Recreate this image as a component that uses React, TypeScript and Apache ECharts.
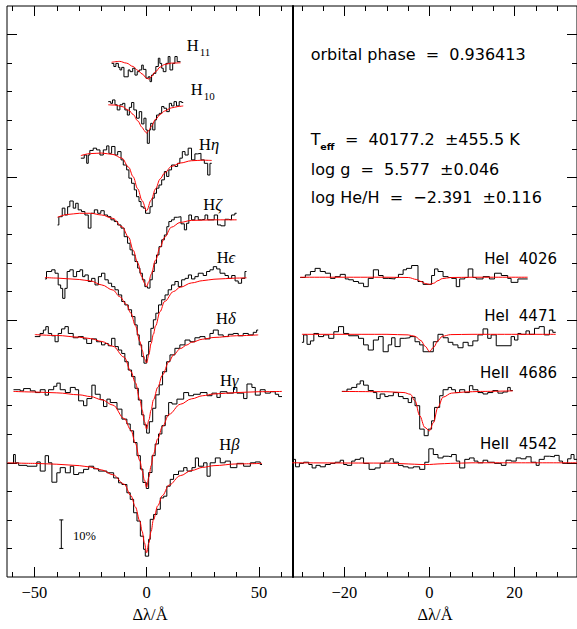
import React, { useEffect, useRef } from 'react';
import * as echarts from 'echarts';

type P = [number, number];

// ---------- axis ranges & ticks ----------
const X_LEFT: P = [-62.2, 65.2];
const X_RIGHT: P = [-32.1, 34.7];
const Y_RANGE: P = [0.6, 2.6];
const leftMinorTicks = [-60, -40, -30, -20, -10, 10, 20, 30, 40, 60];
const leftMajorTicks = [-50, 0, 50];
const rightMinorTicks = [-30, -25, -15, -10, -5, 5, 10, 15, 25, 30];
const rightMajorTicks = [-20, 0, 20];
const yMinorTicks = [0.7, 0.8, 0.9, 1.1, 1.2, 1.3, 1.4, 1.6, 1.7, 1.8, 1.9, 2.1, 2.2, 2.3, 2.4];
const yMajorTicks = [1.0, 1.5, 2.0, 2.5];

// ---------- Balmer lines (left panel) ----------
const balmerNames = ['Hβ', 'Hγ', 'Hδ', 'Hϵ', 'Hζ', 'Hη', 'H10', 'H11'];
const balmerOffsets = [0, 0.25, 0.45, 0.65, 0.85, 1.05, 1.25, 1.4];

const hBetaObs: P[] = [[-62.0,0.998],[-59.3,1.029],[-58.5,1.0],[-57.0,0.991],[-53.3,0.988],[-48.9,1.003],[-47.4,0.971],[-45.2,1.025],[-43.7,1.0],[-42.2,0.932],[-40.0,0.965],[-38.5,0.983],[-36.2,0.965],[-34.0,0.988],[-32.5,0.959],[-30.3,0.965],[-28.1,0.977],[-25.8,0.988],[-23.6,0.979],[-21.4,0.971],[-17.7,0.965],[-14.7,0.947],[-12.5,0.930],[-11.0,0.924],[-8.8,0.895],[-7.3,0.872],[-5.8,0.825],[-4.3,0.796],[-2.8,0.743],[-1.35,0.697],[-0.6,0.673],[0.9,0.732],[1.6,0.802],[3.1,0.819],[4.6,0.837],[6.1,0.877],[7.6,0.883],[9.0,0.918],[10.5,0.942],[12.0,0.959],[14.2,0.971],[16.5,0.983],[18.0,0.971],[20.2,0.983],[21.7,1.017],[23.1,0.988],[25.4,1.0],[26.9,0.953],[28.3,1.0],[30.6,1.017],[32.8,1.0],[35.0,1.006],[37.3,0.983],[40.2,0.998],[43.2,0.988],[46.2,1.0],[48.4,1.003],[50.6,0.994],[51.4,0.994]];
const hBetaFit: P[] = [[-62,1.0],[-50,0.998],[-40,0.995],[-30,0.99],[-25,0.985],[-20,0.975],[-15,0.958],[-10,0.925],[-7,0.885],[-5,0.845],[-3,0.795],[-2,0.76],[-1,0.72],[0,0.685],[1,0.72],[2,0.76],[3,0.8],[5,0.85],[7,0.885],[10,0.922],[15,0.955],[20,0.973],[25,0.984],[30,0.99],[40,0.996],[51.4,0.998]];

const hGammaObs: P[] = [[-59.3,1.006],[-56.3,1.002],[-54.8,1.010],[-51.8,1.002],[-49.6,0.996],[-47.4,1.006],[-45.2,0.987],[-43.7,1.006],[-41.4,1.018],[-40.0,1.029],[-38.5,1.006],[-36.2,0.996],[-34.0,1.014],[-31.8,1.006],[-30.3,0.967],[-28.1,0.950],[-26.6,0.975],[-24.4,1.022],[-22.9,0.990],[-20.7,0.971],[-19.2,0.947],[-17.7,0.973],[-16.2,0.961],[-13.2,0.938],[-11.0,0.903],[-8.8,0.886],[-7.3,0.862],[-5.8,0.821],[-4.3,0.775],[-2.8,0.728],[-1.65,0.681],[-0.15,0.660],[0.9,0.716],[2.4,0.775],[3.8,0.816],[5.3,0.851],[6.8,0.880],[8.3,0.915],[9.8,0.961],[11.3,0.956],[13.5,0.973],[16.5,0.996],[18.7,0.985],[20.9,0.990],[23.9,0.996],[26.9,0.985],[29.1,0.994],[31.3,0.979],[32.8,0.999],[35.8,0.994],[38.7,1.014],[40.2,0.994],[43.2,0.975],[44.7,1.026],[46.9,1.014],[48.4,0.987],[50.6,1.006],[52.8,0.994],[55.1,0.999],[57.3,0.990],[58.8,0.982],[60.3,0.982]];
const hGammaFit: P[] = [[-59.3,1.0],[-50,0.998],[-40,0.995],[-30,0.988],[-25,0.982],[-20,0.971],[-15,0.952],[-10,0.905],[-7,0.865],[-5,0.818],[-3,0.757],[-2,0.722],[-1,0.69],[0,0.664],[1,0.7],[2,0.74],[3,0.78],[5,0.835],[7,0.876],[10,0.92],[15,0.955],[20,0.974],[25,0.985],[30,0.991],[40,0.996],[50,0.999],[60.3,1.0]];

const hDeltaObs: P[] = [[-49.8,0.992],[-47.5,1.003],[-46.0,1.015],[-44.9,1.027],[-43.8,1.003],[-42.3,0.995],[-40.8,0.974],[-39.4,1.003],[-37.9,1.019],[-36.4,1.027],[-34.9,1.003],[-32.7,0.988],[-30.5,0.992],[-28.2,0.984],[-26.7,0.968],[-24.5,0.984],[-22.3,0.974],[-20.1,0.963],[-18.6,0.968],[-17.1,0.960],[-15.6,0.986],[-14.1,0.957],[-12.6,0.945],[-11.1,0.933],[-9.7,0.904],[-8.2,0.875],[-6.7,0.852],[-5.2,0.811],[-3.7,0.770],[-2.2,0.718],[-1.2,0.683],[0.0,0.654],[1.2,0.694],[2.7,0.741],[4.1,0.788],[5.6,0.823],[7.1,0.869],[8.9,0.904],[10.4,0.928],[12.6,0.951],[14.8,0.963],[17.1,0.980],[19.3,0.974],[21.5,0.988],[23.7,0.992],[26.0,0.984],[28.2,1.003],[29.7,1.015],[31.9,0.998],[34.1,0.992],[36.4,1.0],[38.6,1.003],[40.8,0.995],[43.0,1.003],[45.3,0.998],[47.5,1.007],[49.0,1.015],[49.7,1.015]];
const hDeltaFit: P[] = [[-49.8,0.999],[-40,0.996],[-30,0.99],[-25,0.985],[-20,0.975],[-15,0.958],[-10,0.92],[-7,0.87],[-5,0.83],[-3,0.77],[-2,0.735],[-1,0.695],[0,0.668],[1,0.7],[2,0.735],[3,0.77],[5,0.815],[7,0.857],[10,0.905],[12,0.928],[15,0.95],[18,0.963],[20,0.972],[25,0.983],[30,0.989],[40,0.995],[49.7,0.998]];

const hEpsObs: P[] = [[-45.3,0.994],[-44.6,1.020],[-42.3,1.026],[-40.8,1.014],[-39.4,0.973],[-38.3,0.961],[-37.4,0.926],[-36.4,0.961],[-35.4,1.020],[-34.2,1.026],[-32.7,1.002],[-31.2,1.020],[-29.7,1.026],[-28.5,1.002],[-27.5,1.008],[-26.0,0.985],[-24.5,0.996],[-23.0,0.973],[-21.5,1.002],[-20.1,1.014],[-18.6,0.991],[-17.1,0.979],[-15.6,0.967],[-14.1,0.956],[-12.6,0.938],[-11.1,0.915],[-9.7,0.903],[-8.2,0.886],[-6.7,0.862],[-5.2,0.833],[-4.2,0.798],[-3.3,0.763],[-2.2,0.722],[-1.2,0.699],[0.0,0.728],[0.9,0.775],[1.9,0.821],[3.0,0.851],[4.1,0.874],[5.3,0.903],[6.7,0.921],[8.2,0.938],[9.6,0.956],[11.1,0.973],[12.6,0.985],[14.1,0.967],[15.6,0.991],[17.1,0.996],[18.6,1.008],[20.0,0.994],[21.5,1.002],[23.0,1.014],[25.2,1.006],[26.7,1.020],[28.2,1.026],[29.7,1.037],[31.2,1.029],[32.7,1.014],[34.9,1.006],[36.4,0.996],[37.9,1.006],[39.4,0.987],[40.8,0.979],[42.3,0.996],[43.8,1.020],[44.5,1.020]];
const hEpsFit: P[] = [[-45.3,0.999],[-40,0.997],[-30,0.992],[-25,0.987],[-20,0.973],[-15,0.955],[-12,0.932],[-9,0.905],[-7,0.874],[-5,0.83],[-3,0.775],[-2,0.745],[-1,0.715],[0,0.7],[1,0.73],[2,0.768],[3,0.8],[4,0.83],[6,0.88],[8,0.915],[12,0.95],[15,0.965],[20,0.98],[25,0.988],[30,0.993],[40,0.997],[44.5,0.998]];

const hZetaObs: P[] = [[-39.7,0.983],[-39.1,1.012],[-37.6,1.042],[-36.4,1.018],[-35.2,1.047],[-34.2,1.067],[-32.7,1.042],[-31.6,1.059],[-30.5,1.036],[-29.0,1.030],[-27.5,1.018],[-26.0,0.972],[-24.8,1.024],[-23.3,1.036],[-21.8,1.024],[-20.4,1.033],[-18.9,1.018],[-17.4,1.012],[-15.9,1.001],[-14.4,0.995],[-12.9,0.983],[-11.4,0.972],[-10.0,0.942],[-8.5,0.919],[-7.4,0.896],[-6.4,0.878],[-5.2,0.855],[-4.0,0.832],[-3.0,0.814],[-1.9,0.791],[-0.8,0.767],[0.4,0.762],[1.5,0.791],[2.5,0.820],[3.4,0.849],[4.4,0.878],[5.5,0.907],[6.7,0.931],[7.9,0.948],[9.0,0.977],[9.9,0.995],[11.1,1.001],[12.3,1.010],[13.8,1.012],[15.3,0.987],[16.8,0.966],[17.8,0.989],[18.8,1.018],[20.0,1.001],[21.5,1.012],[23.0,1.001],[24.5,1.003],[26.0,1.018],[27.2,1.001],[28.6,1.001],[30.1,1.018],[31.6,0.983],[33.1,0.980],[34.9,1.003],[36.4,1.001],[37.8,1.018],[39.3,1.024],[40.1,1.024]];
const hZetaFit: P[] = [[-39.7,1.01],[-35,1.02],[-30,1.024],[-25,1.024],[-20,1.018],[-15,1.006],[-11,0.977],[-8,0.94],[-6,0.895],[-4,0.85],[-2,0.8],[-1,0.78],[0,0.767],[1,0.785],[2,0.81],[4,0.86],[6,0.905],[8,0.94],[11,0.975],[15,0.992],[20,0.999],[30,1.001],[40.1,1.001]];

const hEtaObs: P[] = [[-29.3,1.017],[-27.8,1.028],[-26.7,0.999],[-26.0,1.028],[-25.3,1.044],[-23.8,1.052],[-22.3,1.046],[-20.8,1.028],[-19.3,1.046],[-17.8,1.060],[-16.8,1.034],[-15.6,1.058],[-14.1,1.028],[-12.9,1.040],[-11.4,1.011],[-10.4,0.993],[-8.9,0.976],[-7.9,0.947],[-6.7,0.929],[-5.5,0.906],[-4.5,0.882],[-3.4,0.865],[-2.5,0.847],[-1.5,0.842],[-0.5,0.824],[1.5,0.847],[2.5,0.877],[3.4,0.894],[4.4,0.912],[5.5,0.923],[6.7,0.941],[7.9,0.970],[8.9,0.953],[9.9,0.976],[11.1,0.993],[12.6,0.988],[13.8,0.999],[14.8,1.017],[15.9,1.040],[17.1,1.028],[18.5,1.052],[20.0,1.011],[21.5,1.032],[22.7,1.034],[24.2,1.011],[25.7,0.999],[27.2,0.958],[28.2,0.999],[29.0,0.999]];
const hEtaFit: P[] = [[-29.3,1.026],[-25,1.033],[-20,1.035],[-15,1.03],[-11,1.017],[-8,0.985],[-6,0.952],[-4,0.91],[-2,0.868],[0,0.833],[2,0.87],[4,0.91],[6,0.944],[8,0.965],[11,0.988],[15,1.0],[20,1.008],[25,1.01],[29,1.009]];

const h10Obs: P[] = [[-17.1,1.015],[-16.0,1.009],[-15.2,1.021],[-14.1,1.004],[-13.1,0.986],[-11.9,1.004],[-10.7,1.009],[-9.7,0.986],[-8.6,0.968],[-7.7,0.995],[-6.7,1.012],[-5.7,0.986],[-4.5,0.957],[-3.3,0.980],[-2.2,0.937],[-1.2,0.957],[-0.3,0.916],[0.3,0.869],[1.2,0.916],[1.8,0.939],[2.7,0.916],[3.7,0.951],[4.4,0.968],[5.6,0.974],[6.7,0.998],[7.7,0.992],[8.9,0.980],[10.1,1.009],[11.1,1.0],[12.2,1.015],[13.3,1.0],[14.5,1.015],[15.6,1.012],[16.3,1.012]];
const h10Fit: P[] = [[-17.1,1.004],[-14,1.003],[-11,0.998],[-8,0.985],[-6,0.97],[-4,0.948],[-2,0.925],[-1,0.913],[0,0.905],[1,0.915],[2,0.928],[4,0.953],[6,0.97],[8,0.982],[11,0.993],[14,0.998],[16.3,1.0]];

const h11Obs: P[] = [[-15.6,0.999],[-14.6,0.988],[-13.7,0.999],[-12.6,0.985],[-11.9,0.976],[-11.1,0.985],[-10.1,0.952],[-8.2,0.976],[-7.4,0.970],[-6.2,0.982],[-5.2,0.958],[-4.2,0.970],[-3.3,0.976],[-2.2,0.993],[-1.5,0.978],[-0.3,0.947],[0.7,0.952],[1.5,0.935],[2.2,0.958],[3.0,0.964],[4.1,0.988],[5.2,1.017],[5.9,0.999],[6.7,0.982],[7.4,0.970],[8.6,0.999],[9.6,1.023],[10.4,0.976],[11.6,0.999],[12.6,1.023],[13.6,1.005],[15.1,1.005]];
const h11Fit: P[] = [[-15.6,1.003],[-12,1.006],[-9,1.0],[-6,0.988],[-4,0.975],[-2,0.962],[0,0.947],[1,0.944],[2,0.952],[4,0.97],[6,0.986],[8,0.995],[11,1.0],[15.1,1.001]];

const balmerObs = [hBetaObs, hGammaObs, hDeltaObs, hEpsObs, hZetaObs, hEtaObs, h10Obs, h11Obs];
const balmerFits = [hBetaFit, hGammaFit, hDeltaFit, hEpsFit, hZetaFit, hEtaFit, h10Fit, h11Fit];

// ---------- helium lines (right panel) ----------
const heNames = ['HeI  4026', 'HeI  4471', 'HeII  4686', 'HeII  4542'];
const heOffsets = [0.65, 0.45, 0.25, 0];

const he4026Obs: P[] = [[-30.4,0.999],[-29.2,1.008],[-28.0,1.020],[-26.9,1.031],[-25.7,1.020],[-24.5,1.014],[-23.3,0.996],[-22.2,1.002],[-21.0,1.010],[-19.8,0.994],[-19.0,0.991],[-17.9,0.985],[-16.7,0.979],[-15.5,0.967],[-14.4,0.996],[-13.2,1.026],[-12.0,1.006],[-10.9,0.996],[-9.7,0.994],[-8.1,0.999],[-7.3,1.010],[-6.2,1.026],[-5.4,1.031],[-4.2,1.041],[-2.7,0.985],[-1.5,0.975],[0.5,1.006],[1.2,1.029],[2.0,1.020],[3.2,1.002],[4.4,0.999],[5.2,0.996],[6.3,0.967],[7.1,0.994],[8.3,0.999],[9.1,1.029],[10.2,0.999],[11.0,0.994],[12.6,1.002],[14.1,0.994],[15.3,1.014],[16.9,1.006],[18.4,0.996],[19.2,0.982],[20.8,0.994],[23.1,0.994]];
const he4026Fit: P[] = [[-30.4,1.0],[-10,1.0],[-5,0.999],[-3,0.992],[-2,0.985],[-1,0.978],[0,0.975],[1,0.979],[2,0.988],[3,0.995],[5,0.999],[10,1.0],[23.1,1.0]];

const he4471Obs: P[] = [[-30.0,0.972],[-29.6,0.998],[-28.8,0.965],[-28.0,0.977],[-27.2,1.003],[-26.1,0.992],[-24.9,0.998],[-23.7,0.986],[-22.5,1.009],[-21.4,1.027],[-20.2,1.003],[-19.0,0.995],[-16.7,0.986],[-15.5,0.963],[-14.4,0.945],[-13.2,0.980],[-12.0,0.992],[-10.9,0.939],[-9.7,0.963],[-8.9,0.988],[-8.1,0.957],[-6.9,0.986],[-5.8,0.988],[-4.6,0.992],[-3.4,0.974],[-2.3,0.963],[-1.5,0.939],[0.9,0.974],[2.0,1.0],[3.2,0.988],[4.4,0.972],[5.5,0.963],[6.7,0.953],[7.9,0.972],[9.1,0.960],[10.2,0.977],[11.4,0.998],[12.6,1.019],[13.7,0.986],[14.5,0.998],[15.7,0.960],[19.2,0.992],[20.0,0.980],[20.8,1.003],[21.5,1.0],[22.7,1.012],[23.5,1.0],[24.7,1.021],[25.8,1.027],[27.0,0.998],[28.2,1.015],[29.0,1.007],[29.7,1.007]];
const he4471Fit: P[] = [[-30,1.0],[-10,1.0],[-5,0.998],[-3.4,0.993],[-2,0.978],[-1,0.958],[0,0.94],[1,0.955],[2,0.978],[3,0.993],[5,0.999],[10,1.0],[29.7,1.0]];

const he4686Obs: P[] = [[-20.6,1.0],[-19.4,1.008],[-18.3,1.014],[-17.1,1.026],[-16.3,1.037],[-15.5,1.022],[-14.4,1.003],[-13.2,0.996],[-12.4,0.975],[-11.6,0.991],[-10.5,0.982],[-9.7,0.985],[-8.5,0.996],[-7.3,0.982],[-6.2,0.975],[-5.0,0.961],[-4.2,0.979],[-3.4,0.950],[-2.3,0.868],[-1.25,0.845],[-0.3,0.868],[0.5,0.897],[1.2,0.944],[2.4,0.985],[3.2,1.006],[4.4,1.014],[5.2,1.006],[6.1,0.996],[7.1,1.006],[8.3,0.996],[9.4,1.020],[10.2,1.006],[11.4,0.996],[12.6,0.991],[13.7,0.996],[14.9,1.003],[16.1,0.994],[17.3,0.998],[18.4,1.014],[19.0,1.003],[19.6,1.003]];
const he4686Fit: P[] = [[-20.6,1.0],[-10,0.999],[-6,0.996],[-4.5,0.99],[-3.4,0.967],[-2.3,0.915],[-1.1,0.874],[0,0.862],[0.9,0.89],[2,0.945],[3.2,0.98],[5.2,0.994],[8.3,0.998],[12,1.0],[19.6,1.002]];

const he4542Obs: P[] = [[-32.3,1.012],[-31.5,0.986],[-30.6,0.998],[-29.6,1.002],[-28.4,0.994],[-27.6,0.982],[-26.7,0.991],[-25.7,0.986],[-24.5,0.994],[-23.3,0.998],[-22.2,1.002],[-21.0,1.009],[-20.2,0.994],[-19.4,0.991],[-18.3,1.006],[-17.5,1.012],[-16.3,1.017],[-15.5,0.998],[-14.2,0.977],[-12.8,0.982],[-11.6,0.998],[-10.5,1.006],[-9.3,1.014],[-8.5,1.002],[-7.3,0.991],[-6.2,0.986],[-5.0,0.982],[-3.8,0.986],[-2.3,0.977],[-1.1,1.002],[-0.15,1.049],[0.9,1.029],[2.0,1.017],[3.2,1.023],[4.4,1.021],[5.2,1.029],[6.3,1.006],[7.1,0.982],[8.3,1.012],[9.4,1.017],[10.5,1.006],[11.4,1.0],[12.6,1.009],[13.7,1.002],[15.3,0.998],[16.9,0.991],[18.0,1.009],[19.2,1.006],[20.4,1.017],[21.5,1.014],[22.7,1.021],[23.9,1.002],[25.1,0.991],[25.8,1.012],[27.0,1.023],[28.2,1.021],[29.4,1.026],[30.5,1.006],[31.3,0.998],[32.5,1.014],[33.3,1.029],[34.0,1.012],[34.7,1.012]];
const he4542Fit: P[] = [[-32.3,1.0],[-10,0.999],[-5,0.996],[-2,0.994],[0,0.994],[2,0.996],[5,0.998],[10,1.0],[34.7,1.0]];

const heObs = [he4026Obs, he4471Obs, he4686Obs, he4542Obs];
const heFits = [he4026Fit, he4471Fit, he4686Fit, he4542Fit];

// 10% scale bar (flux units)
const scaleBarX = -38;
const scaleBarY: P = [0.7, 0.8];

const fitInfo = ['orbital phase  =  0.936413', '=  40177.2  ±455.5 K', 'log g  =  5.577  ±0.046', 'log He/H  =  \u22122.391  ±0.116'];

// ---------- styling ----------
const SERIF = '"Liberation Serif", "DejaVu Serif", "Times New Roman", serif';
const SANS = '"DejaVu Sans", "Liberation Sans", sans-serif';
const BLACK = '#000000';
const RED = '#ff0000';

const fmt = (v: number) => (v < 0 ? '\u2212' + Math.abs(v) : String(v));

function xAxesFor(gi: number, range: P, minor: number[], major: number[]) {
  const base = {
    gridIndex: gi, type: 'value', min: range[0], max: range[1],
    splitLine: { show: false }, axisLine: { show: false, onZero: false },
  };
  const tick = (vals: number[], len: number) => ({ show: true, inside: true, length: len, customValues: vals, lineStyle: { color: BLACK, width: 1 } });
  return [
    { ...base, position: 'bottom', axisTick: tick(minor, 5), axisLabel: { show: false } },
    {
      ...base, position: 'bottom', axisTick: tick(major, 10),
      axisLabel: { show: true, customValues: major, formatter: fmt, color: BLACK, fontFamily: SERIF, fontSize: 16.5, margin: 7 },
      name: 'Δλ/Å', nameLocation: 'middle', nameGap: 28,
      nameTextStyle: { color: BLACK, fontFamily: SERIF, fontSize: 16.5 },
    },
    { ...base, position: 'top', axisTick: tick(minor, 5), axisLabel: { show: false } },
    { ...base, position: 'top', axisTick: tick(major, 10), axisLabel: { show: false } },
  ];
}

function yAxis(gi: number, position: string, vals: number[] | null, len: number, divider = false) {
  return {
    gridIndex: gi, type: 'value', min: Y_RANGE[0], max: Y_RANGE[1], position,
    splitLine: { show: false },
    axisLine: { show: divider, onZero: false, lineStyle: { color: BLACK, width: 2 } },
    axisTick: vals ? { show: true, inside: true, length: len, customValues: vals, lineStyle: { color: BLACK, width: 1 } } : { show: false },
    axisLabel: { show: false },
  };
}

function lineS(data: any[], xi: number, yi: number, color: string, extra: any = {}) {
  return {
    type: 'line', xAxisIndex: xi, yAxisIndex: yi, data, symbol: 'none', silent: true,
    lineStyle: { color, width: 1 }, ...extra,
  };
}

function text(x: number, y: number, str: string, font: string, size: number, align = 'left', extra: any = {}) {
  return {
    type: 'text', x, y, silent: true,
    style: { text: str, fontFamily: font, fontSize: size, fill: BLACK, textAlign: align, textVerticalAlign: 'middle', ...extra },
  };
}

export default function App() {
  const ref = useRef<HTMLDivElement>(null);

  useEffect(() => {
    if (!ref.current) return;
    const chart = echarts.init(ref.current, undefined, { renderer: 'svg' });

    const series: any[] = [];
    balmerObs.forEach((obs, i) => {
      series.push(lineS(obs.map(([x, f]) => [x, f + balmerOffsets[i]]), 0, 0, BLACK, { step: 'end', name: balmerNames[i] + ' obs' }));
    });
    heObs.forEach((obs, i) => {
      series.push(lineS(obs.map(([x, f]) => [x, f + heOffsets[i]]), 4, 3, BLACK, { step: 'end', name: heNames[i] + ' obs' }));
    });
    balmerFits.forEach((fit, i) => {
      series.push(lineS(fit.map(([x, f]) => [x, f + balmerOffsets[i]]), 0, 0, RED, { smooth: 0.35, smoothMonotone: 'x', name: balmerNames[i] + ' fit' }));
    });
    heFits.forEach((fit, i) => {
      series.push(lineS(fit.map(([x, f]) => [x, f + heOffsets[i]]), 4, 3, RED, { smooth: 0.35, smoothMonotone: 'x', name: heNames[i] + ' fit' }));
    });
    // 10% scale bar
    series.push(lineS([[scaleBarX, scaleBarY[0]], [scaleBarX, scaleBarY[1]]], 0, 0, BLACK));
    series.push(lineS([[scaleBarX - 0.9, scaleBarY[0]], [scaleBarX + 0.9, scaleBarY[0]]], 0, 0, BLACK));
    series.push(lineS([[scaleBarX - 0.9, scaleBarY[1]], [scaleBarX + 0.9, scaleBarY[1]]], 0, 0, BLACK));

    const balmerLabelPos = [
      { x: 219.3, y: 444.7 }, { x: 220, y: 380.5 }, { x: 216, y: 318.7 }, { x: 216.7, y: 257.8 },
      { x: 203.3, y: 204.7 }, { x: 199, y: 144.7 }, { x: 190.7, y: 89 }, { x: 186.7, y: 45.8 },
    ];
    const graphics: any[] = [];
    balmerNames.forEach((name, i) => {
      const p = balmerLabelPos[i];
      const rest = name.slice(1);
      if (/^\d+$/.test(rest)) {
        graphics.push(text(p.x, p.y, 'H', SERIF, 16.5));
        graphics.push(text(p.x + 13, p.y + 6.5, rest, SERIF, 11));
      } else {
        graphics.push({
          type: 'text', x: p.x, y: p.y, silent: true,
          style: {
            text: '{a|H}{b|' + rest + '}', textVerticalAlign: 'middle', textAlign: 'left', fill: BLACK,
            rich: {
              a: { fontFamily: SERIF, fontSize: 16.5, fill: BLACK },
              b: { fontFamily: SERIF, fontSize: 16.5, fontStyle: 'italic', fill: BLACK },
            },
          },
        });
      }
    });
    const heLabelY = [258.7, 315.8, 372.8, 443.8];
    heNames.forEach((name, i) => graphics.push(text(557, heLabelY[i], name, SANS, 15, 'right')));
    graphics.push(text(310.7, 54.2, fitInfo[0], SANS, 16));
    graphics.push(text(310.7, 139.2, 'T', SANS, 16));
    graphics.push(text(320.3, 146.6, 'eff', SANS, 9.5, 'left', { fontWeight: 'bold' }));
    graphics.push(text(345, 139.2, fitInfo[1], SANS, 16));
    graphics.push(text(310.7, 169.2, fitInfo[2], SANS, 16));
    graphics.push(text(310.7, 197.5, fitInfo[3], SANS, 16));
    graphics.push(text(73, 535.5, '10%', SERIF, 12.5));

    const option: any = {
      animation: false,
      backgroundColor: '#ffffff',
      grid: [
        { left: 7, top: 6, width: 286, height: 571, show: true, borderColor: BLACK, borderWidth: 1, backgroundColor: 'transparent' },
        { left: 293, top: 6, width: 285, height: 571, show: true, borderColor: BLACK, borderWidth: 1, backgroundColor: 'transparent' },
      ],
      xAxis: [
        ...xAxesFor(0, X_LEFT, leftMinorTicks, leftMajorTicks),
        ...xAxesFor(1, X_RIGHT, rightMinorTicks, rightMajorTicks),
      ],
      yAxis: [
        yAxis(0, 'left', yMinorTicks, 5),
        yAxis(0, 'left', yMajorTicks, 10),
        yAxis(0, 'right', null, 0, true),
        yAxis(1, 'right', yMinorTicks, 5),
        yAxis(1, 'right', yMajorTicks, 10),
      ],
      series,
      graphic: graphics,
    };
    chart.setOption(option);
    return () => chart.dispose();
  }, []);

  return <div ref={ref} style={{ position: 'absolute', left: 0, top: 0, width: 577, height: 629, background: '#fff' }} />;
}
